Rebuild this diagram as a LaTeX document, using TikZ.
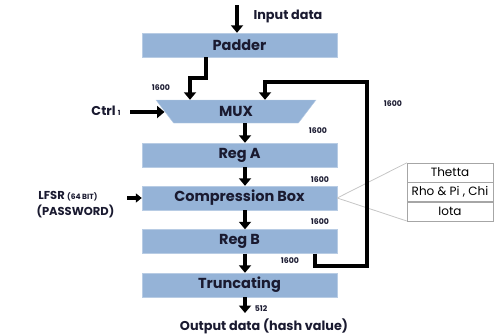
\documentclass[tikz,border=0pt]{standalone}
\usepackage{fontspec}
\setmainfont{Poppins}
\usepackage{xcolor}
\usepackage{tikz}
\usetikzlibrary{shapes.geometric, arrows.meta, positioning}
\definecolor{boxblue}{HTML}{95B3D7}
\definecolor{boxedge}{HTML}{B8CCE4}
\definecolor{inkdark}{HTML}{1A1A30}
\tikzset{
    block/.style={rectangle, minimum width=195pt, minimum height=24pt, text centered, draw=boxedge, fill=boxblue, text=inkdark, font=\fontsize{14.5}{16}\selectfont\bfseries},
    muxblock/.style={trapezium, trapezium left angle=136, trapezium right angle=136, trapezium stretches body, minimum width=160pt, minimum height=23pt, draw=boxedge, fill=boxblue, text=inkdark, font=\fontsize{14.5}{16}\selectfont\bfseries},
    flow/.style={line width=4.5pt, black, -{Triangle[width=12pt,length=7.5pt]}},
    bits/.style={font=\fontsize{7.8}{9}\selectfont\bfseries, text=inkdark},
    caption/.style={font=\fontsize{12.8}{15}\selectfont\bfseries, text=inkdark},
    cell/.style={rectangle, minimum width=86pt, minimum height=19pt, draw=gray!70, text=black, font=\fontsize{12}{14}\selectfont},
    zoomline/.style={draw=gray!45, line width=0.8pt}
}
\begin{document}
\begin{tikzpicture}[x=1pt, y=-1pt]
    \useasboundingbox (0,0) rectangle (496,335);
    % main blocks
    \node (padder) [block] at (239.5,45) {Padder};
    \node (mux) [muxblock] at (236,111.5) {MUX};
    \node (rega) [block] at (239.5,155) {Reg A};
    \node (comp) [block] at (239.5,198) {Compression Box};
    \node (regb) [block] at (239.5,241.5) {Reg B};
    \node (trunc) [block] at (239.5,285) {Truncating};

    % detail table
    \node (thetta) [cell] at (450,172.5) {Thetta};
    \node (rhopi) [cell, below=0pt of thetta] {Rho \& Pi , Chi};
    \node (iota) [cell, below=0pt of rhopi] {Iota};
    \draw [zoomline] (comp.east) -- (thetta.north west);
    \draw [zoomline] (comp.east) -- (iota.south west);

    % helper points
    \coordinate (inp) at (237,5);
    \coordinate (col) at (245,0);
    \coordinate (padout) at (206,78);
    \coordinate (padin) at (190,0);
    \coordinate (fbdown) at (315,266);
    \coordinate (fbup) at (367,82);
    \coordinate (fbin) at (265,0);
    \coordinate (ctrl) at (130,112);
    \coordinate (lfsr) at (127,198);
    \coordinate (out) at (245,313);

    % data path
    \draw [flow] (inp) -- (inp |- padder.north);
    \draw [flow] (padder.south -| padout) -- (padout) -| (mux.north -| padin);
    \draw [flow] (mux.south -| col) -- (rega.north -| col);
    \draw [flow] (rega.south -| col) -- (comp.north -| col);
    \draw [flow] (comp.south -| col) -- (regb.north -| col);
    \draw [flow] (regb.south -| col) -- (trunc.north -| col);
    \draw [flow] (trunc.south -| col) -- (out);
    \draw [flow, line join=miter] (regb.south -| fbdown) -- (fbdown) -| (fbup) -| (mux.north -| fbin);
    \draw [flow] (ctrl) -- (ctrl -| mux.west);
    \draw [flow, -{Triangle[width=9pt,length=6pt]}] (lfsr) -- (comp.west);

    % labels
    \node (inlabel) [caption, anchor=west] at (250,16) {Input data};
    \node (ctrllabel) [caption, anchor=east] at (124,111) {Ctrl\,{\fontsize{7}{8}\selectfont 1}};
    \node (lfsrlabel) [caption, font=\fontsize{11.5}{16}\selectfont\bfseries, align=left, anchor=west] at (33,205) {\,LFSR {\fontsize{7.5}{8}\selectfont(64 BIT)}\\(PASSWORD)};
    \node (outlabel) [caption] at (264,326) {Output data (hash value)};
    \node [bits] at (161,88) {1600};
    \node [bits] at (393,104) {1600};
    \node [bits] at (318,131) {1600};
    \node [bits] at (320,180) {1600};
    \node [bits] at (320,222) {1600};
    \node [bits] at (290,261) {1600};
    \node [bits] at (261,309) {512};
\end{tikzpicture}
\end{document}
